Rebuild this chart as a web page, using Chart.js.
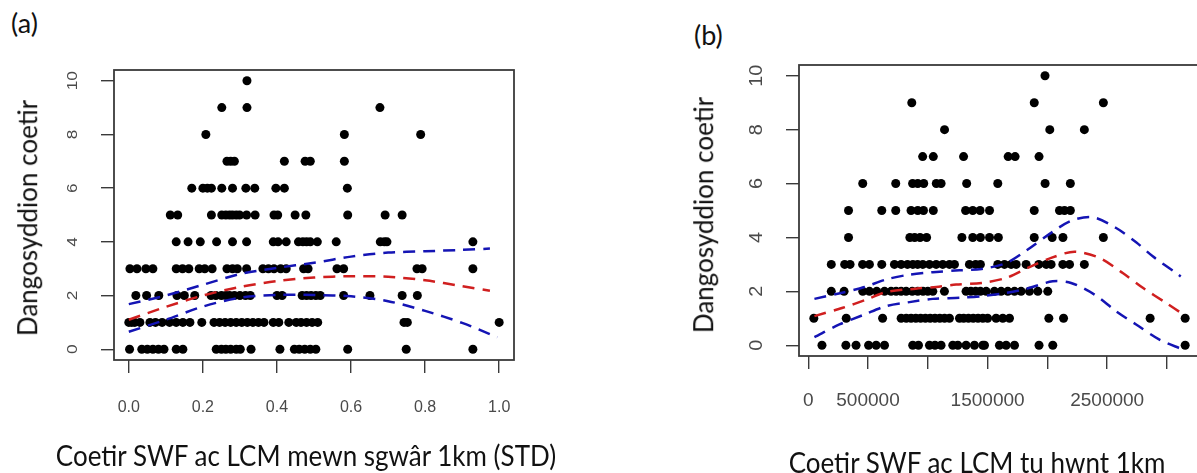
<!DOCTYPE html>
<html>
<head>
<meta charset="utf-8">
<script src="https://cdn.jsdelivr.net/npm/chart.js@4/dist/chart.umd.min.js"></script>
<style>
  html, body { margin: 0; padding: 0; background: #fff; }
  body { width: 1197px; height: 473px; overflow: hidden; position: relative; font-family: Lato, "Open Sans", sans-serif; color: #111; }
  .panel { position: absolute; top: 0; height: 473px; }
  .lbl { position: absolute; white-space: nowrap; font-size: 27px; }
  .ytitle { position: absolute; white-space: nowrap; font-size: 26px; transform: translate(-50%, -50%) rotate(-90deg) scaleY(1.05); }
  .xtitle { position: absolute; white-space: nowrap; font-size: 26px; transform: translate(-50%, -50%) scaleY(1.1); }
</style>
</head>
<body>

<div class="lbl" style="left:11px; top:6px;">(a)</div>
<div class="lbl" style="left:694px; top:18px;">(b)</div>

<div class="panel" style="left:0; width:600px;"><canvas id="chartA"></canvas></div>
<div class="panel" style="left:600px; width:620px;"><canvas id="chartB"></canvas></div>

<div class="ytitle" style="left:27px; top:218px;">Dangosyddion coetir</div>
<div class="ytitle" style="left:703px; top:215px;">Dangosyddion coetir</div>
<div class="xtitle" style="left:306px; top:455px;">Coetir SWF ac LCM mewn sgwâr 1km (STD)</div>
<div class="xtitle" style="left:977px; top:462px;">Coetir SWF ac LCM tu hwnt 1km</div>

<script>
// (a) x values of the points, one list per y value (index = y)
const aRows = [
  [0.002, 0.035, 0.05, 0.065, 0.08, 0.095, 0.128, 0.146, 0.236, 0.25, 0.262, 0.275, 0.29, 0.301, 0.33, 0.408, 0.447, 0.46, 0.475, 0.49, 0.505, 0.591, 0.749, 0.929],
  [0.0, 0.008, 0.016, 0.03, 0.057, 0.072, 0.09, 0.11, 0.128, 0.146, 0.165, 0.197, 0.23, 0.245, 0.26, 0.275, 0.29, 0.305, 0.32, 0.335, 0.35, 0.365, 0.39, 0.405, 0.432, 0.452, 0.465, 0.48, 0.495, 0.51, 0.743, 0.752, 1.0],
  [0.019, 0.048, 0.081, 0.13, 0.15, 0.178, 0.222, 0.235, 0.25, 0.262, 0.272, 0.285, 0.3, 0.315, 0.328, 0.4, 0.414, 0.468, 0.48, 0.492, 0.505, 0.517, 0.58, 0.651, 0.738, 0.779],
  [0.003, 0.022, 0.046, 0.065, 0.128, 0.145, 0.162, 0.19, 0.205, 0.225, 0.265, 0.28, 0.293, 0.318, 0.362, 0.377, 0.392, 0.41, 0.425, 0.472, 0.484, 0.562, 0.58, 0.778, 0.792, 0.929],
  [0.128, 0.16, 0.193, 0.237, 0.28, 0.318, 0.39, 0.403, 0.425, 0.458, 0.47, 0.48, 0.49, 0.509, 0.56, 0.679, 0.69, 0.697, 0.929],
  [0.112, 0.132, 0.223, 0.251, 0.262, 0.272, 0.28, 0.29, 0.299, 0.318, 0.341, 0.392, 0.402, 0.449, 0.478, 0.591, 0.692, 0.738],
  [0.17, 0.2, 0.212, 0.223, 0.251, 0.28, 0.316, 0.34, 0.397, 0.42, 0.59],
  [0.265, 0.275, 0.285, 0.42, 0.476, 0.49, 0.582],
  [0.208, 0.582, 0.788],
  [0.251, 0.319, 0.678],
  [0.319]
];
// (a) fitted curve and confidence band
const aCurveX = [0.0, 0.1, 0.2, 0.3, 0.4, 0.5, 0.6, 0.7, 0.8, 0.9, 0.975];
const aFit    = [1.1, 1.58, 2.0, 2.32, 2.54, 2.67, 2.72, 2.7, 2.57, 2.35, 2.18];
const aUpper  = [1.68, 2.0, 2.4, 2.8, 3.03, 3.22, 3.45, 3.6, 3.65, 3.7, 3.75];
const aLowerX = [0.0, 0.1, 0.2, 0.3, 0.4, 0.5, 0.6, 0.7, 0.8, 0.9, 0.995];
const aLower  = [0.65, 1.1, 1.59, 1.92, 2.02, 2.02, 1.97, 1.79, 1.43, 0.98, 0.45];

// (b) x values of the points, one list per y value (index = y)
const bRows = [
  [115e3, 315e3, 400e3, 505e3, 568e3, 638e3, 874e3, 922e3, 1014e3, 1060e3, 1111e3, 1209e3, 1251e3, 1320e3, 1390e3, 1460e3, 1474e3, 1599e3, 1655e3, 1725e3, 1930e3, 2045e3, 3152e3],
  [47e3, 318e3, 622e3, 777e3, 820e3, 860e3, 900e3, 940e3, 980e3, 1020e3, 1060e3, 1100e3, 1140e3, 1181e3, 1265e3, 1300e3, 1340e3, 1380e3, 1420e3, 1460e3, 1500e3, 1571e3, 1627e3, 1683e3, 2012e3, 2135e3, 2859e3, 3152e3],
  [193e3, 300e3, 456e3, 512e3, 573e3, 638e3, 693e3, 735e3, 777e3, 819e3, 870e3, 916e3, 960e3, 1000e3, 1042e3, 1139e3, 1320e3, 1360e3, 1400e3, 1440e3, 1488e3, 1557e3, 1613e3, 1669e3, 1725e3, 1780e3, 1850e3, 1920e3, 2003e3],
  [193e3, 305e3, 350e3, 455e3, 512e3, 615e3, 721e3, 777e3, 830e3, 875e3, 915e3, 958e3, 1014e3, 1070e3, 1125e3, 1181e3, 1223e3, 1348e3, 1400e3, 1440e3, 1585e3, 1641e3, 1697e3, 1739e3, 1822e3, 1928e3, 1990e3, 2031e3, 2129e3, 2185e3, 2309e3],
  [337e3, 850e3, 890e3, 935e3, 990e3, 1285e3, 1376e3, 1440e3, 1516e3, 1590e3, 1890e3, 2040e3, 2130e3, 2468e3],
  [337e3, 615e3, 732e3, 860e3, 916e3, 964e3, 1046e3, 1316e3, 1376e3, 1437e3, 1516e3, 1890e3, 2101e3, 2143e3, 2192e3],
  [456e3, 732e3, 873e3, 916e3, 966e3, 1071e3, 1111e3, 1325e3, 1585e3, 1981e3, 2192e3],
  [957e3, 1046e3, 1299e3, 1672e3, 1730e3, 1930e3],
  [1140e3, 2020e3, 2309e3],
  [866e3, 1890e3, 2468e3],
  [1980e3]
];
// (b) fitted curve and confidence band
const bFitX   = [52e3, 289e3, 484e3, 651e3, 900e3, 1070e3, 1237e3, 1450e3, 1655e3, 1836e3, 2031e3, 2226e3, 2435e3, 2630e3, 2798e3, 2993e3, 3138e3];
const bFit    = [1.08, 1.39, 1.69, 1.97, 2.1, 2.16, 2.25, 2.31, 2.5, 2.87, 3.24, 3.47, 3.24, 2.68, 2.13, 1.57, 1.14];
const bUpperX = [52e3, 275e3, 470e3, 651e3, 847e3, 1042e3, 1265e3, 1450e3, 1655e3, 1836e3, 2031e3, 2198e3, 2380e3, 2575e3, 2742e3, 2881e3, 3076e3, 3115e3];
const bUpper  = [1.72, 1.94, 2.16, 2.44, 2.62, 2.71, 2.78, 2.83, 3.05, 3.55, 4.17, 4.62, 4.75, 4.35, 3.82, 3.3, 2.68, 2.55];
const bLowerX = [52e3, 261e3, 470e3, 651e3, 847e3, 1042e3, 1265e3, 1450e3, 1655e3, 1822e3, 2045e3, 2198e3, 2394e3, 2575e3, 2742e3, 2937e3, 3132e3];
const bLower  = [0.3, 0.77, 1.14, 1.45, 1.6, 1.72, 1.76, 1.82, 1.94, 2.09, 2.37, 2.31, 1.88, 1.26, 0.77, 0.21, -0.16];

// ticks and tick labels
const yTicks = [0, 2, 4, 6, 8, 10];
const aTicks = [0, 0.2, 0.4, 0.6, 0.8, 1.0];
const aTickLabels = ['0.0', '0.2', '0.4', '0.6', '0.8', '1.0'];
const bTicks = [0, 500000, 1000000, 1500000, 2000000, 2500000, 3000000];
const bTickLabels = ['0', '500000', '', '1500000', '', '2500000', ''];

const RED = '#d01f1f';
const BLUE = '#1414b4';
const AXIS = '#3a3a3a';
const TICKFONT = '"Liberation Sans", Arial, sans-serif';

function rowsToPoints(rows) {
  const pts = [];
  rows.forEach((xs, y) => xs.forEach(x => pts.push({x: x, y: y})));
  return pts;
}
function pairs(xs, ys) {
  return xs.map((x, i) => ({x: x, y: ys[i]}));
}
function dashed(data, color) {
  return {
    data: data, showLine: true, borderColor: color, borderWidth: 2.5,
    borderDash: [12, 8], pointRadius: 0, fill: false, tension: 0.3, order: 0
  };
}

// frame around the plot region, R style
const boxPlugin = {
  id: 'box',
  afterDraw(chart) {
    const {ctx, chartArea: a} = chart;
    ctx.save();
    ctx.strokeStyle = AXIS;
    ctx.lineWidth = 1.8;
    ctx.strokeRect(a.left, a.top, a.right - a.left, a.bottom - a.top);
    ctx.restore();
  }
};

// y tick labels turned 90 degrees like in R
const rotatedY = {
  id: 'rotatedY',
  afterDraw(chart, args, opts) {
    const {ctx} = chart;
    const sc = chart.scales.y;
    ctx.save();
    ctx.fillStyle = '#4a4a4a';
    ctx.font = opts.size + 'px ' + TICKFONT;
    ctx.textAlign = 'center';
    ctx.textBaseline = 'middle';
    yTicks.forEach(v => {
      ctx.save();
      ctx.translate(opts.x, sc.getPixelForValue(v));
      ctx.rotate(-Math.PI / 2);
      ctx.scale(opts.stretch, 1);
      ctx.fillText(String(v), 0, 0);
      ctx.restore();
    });
    ctx.restore();
  }
};

function makeChart(id, cfg) {
  return new Chart(document.getElementById(id), {
    type: 'scatter',
    data: {
      datasets: [
        { data: cfg.points, backgroundColor: '#000', borderWidth: 0, pointRadius: 4.5, order: 1 },
        dashed(cfg.fit, RED),
        dashed(cfg.upper, BLUE),
        dashed(cfg.lower, BLUE)
      ]
    },
    options: {
      responsive: true,
      maintainAspectRatio: false,
      animation: false,
      events: [],
      layout: { padding: { top: cfg.top, right: cfg.right, left: 0, bottom: 0 } },
      plugins: {
        legend: { display: false },
        tooltip: { enabled: false },
        rotatedY: { x: cfg.yLabelX, size: cfg.yFont, stretch: cfg.yStretch }
      },
      scales: {
        x: {
          type: 'linear',
          min: cfg.xMin, max: cfg.xMax,
          afterBuildTicks: s => { s.ticks = cfg.xTicks.map(v => ({value: v})); },
          afterFit: s => { s.height = cfg.xAxisH; },
          border: { display: false },
          grid: { drawOnChartArea: false, tickLength: 13, color: AXIS, lineWidth: 1.4 },
          ticks: {
            maxRotation: 0, autoSkip: false,
            padding: cfg.xPad, color: '#4a4a4a',
            font: { family: TICKFONT, size: cfg.xFont },
            callback: (v, i) => cfg.xLabels[i]
          }
        },
        y: {
          min: -0.4, max: 10.4,
          afterBuildTicks: s => { s.ticks = yTicks.map(v => ({value: v})); },
          afterFit: s => { s.width = cfg.yAxisW; },
          border: { display: false },
          grid: { drawOnChartArea: false, tickLength: 13, color: AXIS, lineWidth: 1.4 },
          ticks: { display: false }
        }
      }
    },
    plugins: [boxPlugin, rotatedY]
  });
}

makeChart('chartA', {
  points: rowsToPoints(aRows),
  fit: pairs(aCurveX, aFit),
  upper: pairs(aCurveX, aUpper),
  lower: pairs(aLowerX, aLower),
  xMin: -0.04, xMax: 1.04, xTicks: aTicks, xLabels: aTickLabels,
  top: 70, right: 86, xAxisH: 113, yAxisW: 114, xPad: 25, xFont: 16,
  yLabelX: 73, yFont: 15, yStretch: 1.15
});

makeChart('chartB', {
  points: rowsToPoints(bRows),
  fit: pairs(bFitX, bFit),
  upper: pairs(bUpperX, bUpper),
  lower: pairs(bLowerX, bLower),
  xMin: -77000, xMax: 3276000, xTicks: bTicks, xLabels: bTickLabels,
  top: 65, right: 20, xAxisH: 117, yAxisW: 199, xPad: 20, xFont: 19,
  yLabelX: 157, yFont: 18, yStretch: 1.1
});
</script>
</body>
</html>
